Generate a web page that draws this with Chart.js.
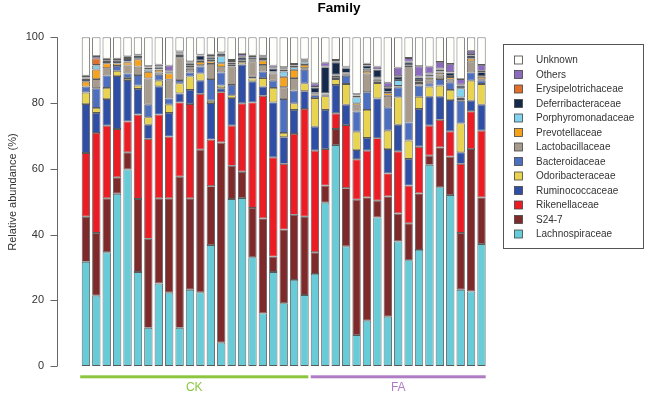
<!DOCTYPE html>
<html>
<head>
<meta charset="utf-8">
<title>Family</title>
<script src="https://cdn.jsdelivr.net/npm/chart.js@4.4.1/dist/chart.umd.min.js"></script>
<style>
  html, body { margin: 0; padding: 0; background: #fff; }
  canvas { display: block; }
</style>
</head>
<body>
<canvas id="chart" width="650" height="398"></canvas>
<script>
// samples (22 CK + 17 FA)
const samples = [
  'CK1', 'CK2', 'CK3', 'CK4', 'CK5', 'CK6', 'CK7', 'CK8', 'CK9', 'CK10', 'CK11',
  'CK12', 'CK13', 'CK14', 'CK15', 'CK16', 'CK17', 'CK18', 'CK19', 'CK20', 'CK21', 'CK22',
  'FA1', 'FA2', 'FA3', 'FA4', 'FA5', 'FA6', 'FA7', 'FA8', 'FA9',
  'FA10', 'FA11', 'FA12', 'FA13', 'FA14', 'FA15', 'FA16', 'FA17'
];
const groupNames = ['CK', 'FA'];
const groupSizes = [22, 17];
const groupColors = ['#8cc63f', '#b07cc4'];
const yTicks = [0, 20, 40, 60, 80, 100];

// relative abundance (%) per family, bottom of the stack first
const lachnospiraceae = [31.7, 21.4, 34.6, 52.4, 59.8, 28.6, 11.6, 25.1, 22.3, 11.6, 23.2, 22.4, 36.8, 7.1, 50.8, 51.1, 33.1, 16.0, 28.6, 19.1, 26.2, 21.6,
  28.0, 49.7, 67.2, 36.4, 9.4, 13.8, 45.2, 15.0, 37.9, 32.2, 35.3, 61.2, 54.4, 52.0, 23.2, 22.7, 37.1];
const s24_7 = [13.7, 19.1, 16.4, 5.0, 5.2, 22.2, 27.1, 25.9, 28.7, 46.0, 27.8, 43.4, 17.9, 60.9, 10.1, 8.0, 15.0, 28.9, 4.7, 22.4, 19.8, 23.8,
  6.6, 5.2, 4.9, 17.7, 41.2, 37.5, 5.1, 36.6, 8.5, 11.2, 17.2, 2.8, 12.1, 11.7, 17.3, 43.3, 14.2];
const rikenellaceae = [19.4, 30.4, 22.1, 14.7, 9.4, 25.7, 30.4, 25.5, 18.8, 22.6, 28.7, 17.0, 14.2, 15.3, 12.2, 20.8, 32.1, 37.3, 30.2, 20.0, 24.6, 32.8,
  30.9, 11.1, 4.8, 19.2, 12.3, 14.2, 19.0, 7.0, 18.9, 11.5, 14.2, 9.1, 8.4, 7.7, 21.0, 11.5, 20.3];
const ruminococcaceae = [14.9, 6.1, 8.1, 16.1, 12.6, 7.8, 4.3, 8.6, 7.2, 2.7, 4.3, 4.0, 11.1, 1.2, 8.4, 11.8, 6.4, 2.8, 16.7, 8.1, 7.3, 5.4,
  7.3, 11.9, 8.6, 6.2, 2.8, 3.9, 12.1, 7.4, 8.1, 8.1, 11.5, 8.8, 7.0, 9.5, 3.5, 3.2, 7.9];
const odoribacteraceae = [3.5, 1.5, 3.4, 1.6, 0.6, 1.0, 2.3, 1.7, 2.5, 3.1, 4.1, 2.2, 0.7, 0.8, 0.9, 0.7, 0.9, 2.6, 4.4, 1.3, 2.0, 2.4,
  8.7, 4.2, 1.8, 6.3, 5.6, 8.5, 4.7, 5.6, 8.3, 5.6, 3.7, 3.1, 3.4, 3.1, 8.8, 6.1, 6.3];
const bacteroidaceae = [1.8, 6.0, 3.8, 1.5, 1.4, 3.2, 3.8, 1.8, 1.9, 1.0, 1.2, 2.1, 6.6, 4.0, 3.1, 0, 0.5, 2.0, 2.2, 10.3, 3.9, 4.1,
  0.9, 0.3, 0.3, 2.5, 6.1, 5.4, 0.5, 7.1, 3.1, 5.5, 3.4, 1.0, 2.0, 2.3, 6.9, 2.5, 1.0];
const lactobacillaceae = [0, 2.8, 2.2, 0, 2.4, 2.6, 8.0, 0.7, 5.7, 6.9, 1.1, 0.4, 4.6, 1.6, 5.6, 0, 4.7, 2.0, 2.2, 3.6, 3.8, 0.5,
  0.2, 0.2, 0.6, 0.3, 1.8, 5.7, 0.6, 3.5, 0.2, 16.8, 0.8, 1.2, 1.4, 0.8, 0.5, 3.4, 0.4];
const prevotellaceae = [1.5, 2.9, 1.5, 0.7, 1.0, 2.2, 2.0, 0.8, 1.9, 0.4, 0.5, 1.0, 0.8, 1.2, 0.5, 0.4, 0.3, 1.3, 0.3, 3.2, 2.5, 1.0,
  0.2, 0.2, 0.2, 0.4, 0.7, 0.8, 0.3, 0.8, 0.2, 0.4, 0.5, 0.6, 0.6, 0.8, 0.5, 0.8, 0.8];
const porphyromonadaceae = [0.5, 1.2, 0.4, 0.2, 0.2, 0.3, 0.7, 0.2, 0.2, 0.4, 0.6, 0.5, 0.5, 2.1, 0.2, 0.2, 0.2, 0.5, 0.2, 1.6, 0.8, 0.7,
  0.3, 0.2, 0.2, 0.2, 1.8, 0.6, 0.2, 0.4, 1.8, 0.2, 0.4, 0.3, 0.3, 0.3, 2.8, 0.2, 0.2];
const deferribacteraceae = [0.5, 0.2, 0.4, 0.6, 0.8, 0.7, 0.5, 0.6, 0.4, 0.4, 0.6, 1.4, 0.7, 0.7, 0.5, 0.9, 0.6, 0.5, 1.0, 0.6, 0.5, 0.4,
  1.6, 7.9, 3.8, 1.4, 0.5, 1.0, 2.4, 1.2, 1.0, 0.9, 0.8, 0.6, 0.6, 1.0, 0.8, 0.8, 1.2];
const erysipelotrichaceae = [0.3, 2.0, 0.2, 0.2, 0.3, 0.2, 0.2, 0.2, 0.2, 0.2, 0.2, 0.1, 0.3, 0.2, 0.2, 0.2, 0.2, 0.2, 0.2, 0.2, 0.2, 0.2,
  0.2, 0.2, 0.2, 0.2, 0.2, 0.2, 0.2, 0.2, 0.2, 0.2, 0.3, 0.3, 0.3, 0.2, 0.3, 0.4, 0.4];
const others = [0.5, 0.7, 0.4, 0.5, 0.5, 0.2, 0.3, 0.6, 1.6, 0.4, 0.4, 0.2, 0.5, 0.3, 0.6, 0.8, 0.4, 0.3, 0.7, 0.5, 0.3, 0.4,
  1.1, 1.2, 0.5, 0.3, 0.3, 0.4, 0.8, 1.4, 2.6, 1.1, 3.1, 2.1, 2.0, 2.5, 1.7, 1.0, 1.8];
const unknown = [11.7, 5.7, 6.5, 6.5, 5.8, 5.3, 8.8, 8.3, 8.6, 4.3, 7.3, 5.3, 5.3, 4.6, 6.9, 5.1, 5.6, 5.6, 8.6, 9.1, 8.1, 6.7,
  14.0, 7.7, 6.9, 8.9, 17.3, 8.0, 8.9, 13.8, 9.2, 6.3, 8.8, 8.9, 7.5, 8.1, 12.7, 4.1, 8.4];

const families = ['Lachnospiraceae', 'S24-7', 'Rikenellaceae', 'Ruminococcaceae', 'Odoribacteraceae', 'Bacteroidaceae',
  'Lactobacillaceae', 'Prevotellaceae', 'Porphyromonadaceae', 'Deferribacteraceae', 'Erysipelotrichaceae', 'Others', 'Unknown'];
const familyValues = [lachnospiraceae, s24_7, rikenellaceae, ruminococcaceae, odoribacteraceae, bacteroidaceae,
  lactobacillaceae, prevotellaceae, porphyromonadaceae, deferribacteraceae, erysipelotrichaceae, others, unknown];
const familyColors = ['#67cbd8', '#7e2a2b', '#ec1c24', '#2f4ea5', '#e8d450', '#4d6fbf',
  '#a69b8d', '#f7a21c', '#82d3ef', '#15294b', '#e06f2b', '#8c6bbf', '#fefefb'];

const FONT = '"Liberation Sans", Arial, sans-serif';

// axis, group bars, title and legend drawn the way the R plot lays them out
const decorations = {
  id: 'decorations',
  afterDraw(chart) {
    const ctx = chart.ctx;
    const xs = chart.scales.x;
    const ys = chart.scales.y;
    ctx.save();

    // title
    ctx.fillStyle = '#000';
    ctx.font = 'bold 13.5px ' + FONT;
    ctx.textAlign = 'center';
    ctx.textBaseline = 'middle';
    ctx.fillText('Family', 339, 8);

    // y axis
    const axX = 57.5;
    ctx.strokeStyle = '#666';
    ctx.lineWidth = 1;
    ctx.beginPath();
    ctx.moveTo(axX, ys.getPixelForValue(0));
    ctx.lineTo(axX, ys.getPixelForValue(100));
    yTicks.forEach(t => {
      const py = Math.round(ys.getPixelForValue(t)) + 0.5;
      ctx.moveTo(axX, py);
      ctx.lineTo(axX - 7, py);
    });
    ctx.stroke();
    ctx.fillStyle = '#333';
    ctx.font = '11px ' + FONT;
    ctx.textAlign = 'right';
    yTicks.forEach(t => {
      ctx.fillText(String(t), 44, ys.getPixelForValue(t));
    });

    // y title
    ctx.save();
    ctx.translate(13, 192);
    ctx.rotate(-Math.PI / 2);
    ctx.textAlign = 'center';
    ctx.fillText('Relative abundance (%)', 0, 0);
    ctx.restore();

    // group bars under the samples
    const catW = xs.width / samples.length;
    let start = 0;
    ctx.font = '12px ' + FONT;
    ctx.textAlign = 'center';
    groupNames.forEach((g, i) => {
      const end = start + groupSizes[i] - 1;
      const x0 = xs.getPixelForValue(start) - catW / 2 + (i === 0 ? -0.5 : 1);
      const x1 = xs.getPixelForValue(end) + catW / 2 - (i === 0 ? 1.4 : 1);
      ctx.fillStyle = groupColors[i];
      ctx.fillRect(x0, 375.3, x1 - x0, 3);
      ctx.fillText(g, (x0 + x1) / 2, 388);
      start = end + 1;
    });

    // legend
    ctx.strokeStyle = '#555';
    ctx.lineWidth = 1;
    ctx.strokeRect(503.5, 44.5, 140, 204);
    ctx.font = '10px ' + FONT;
    ctx.textAlign = 'left';
    for (let i = 0; i < families.length; i++) {
      const k = families.length - 1 - i;
      const cy = 60 + i * 14.5;
      ctx.fillStyle = familyColors[k];
      ctx.fillRect(514.5, cy - 4, 8, 8);
      ctx.strokeStyle = '#444';
      ctx.lineWidth = 0.8;
      ctx.strokeRect(514.5, cy - 4, 8, 8);
      ctx.fillStyle = '#333';
      ctx.fillText(families[k], 536, cy + 0.5);
    }
    ctx.restore();
  }
};

new Chart(document.getElementById('chart'), {
  type: 'bar',
  data: {
    labels: samples,
    datasets: families.map((f, i) => ({
      label: f,
      data: familyValues[i],
      backgroundColor: familyColors[i],
      borderColor: 'rgba(60,60,60,0.85)',
      borderWidth: 0.9,
      borderSkipped: false,
      barPercentage: 0.8,
      categoryPercentage: 1.0
    }))
  },
  options: {
    responsive: false,
    animation: false,
    devicePixelRatio: 1,
    layout: { padding: { left: 80.7, right: 163.3, top: 37.3, bottom: 32 } },
    plugins: {
      legend: { display: false },
      title: { display: false },
      tooltip: { enabled: false }
    },
    scales: {
      x: { stacked: true, display: false },
      y: { stacked: true, display: false, min: 0, max: 100 }
    }
  },
  plugins: [decorations]
});
</script>
</body>
</html>
